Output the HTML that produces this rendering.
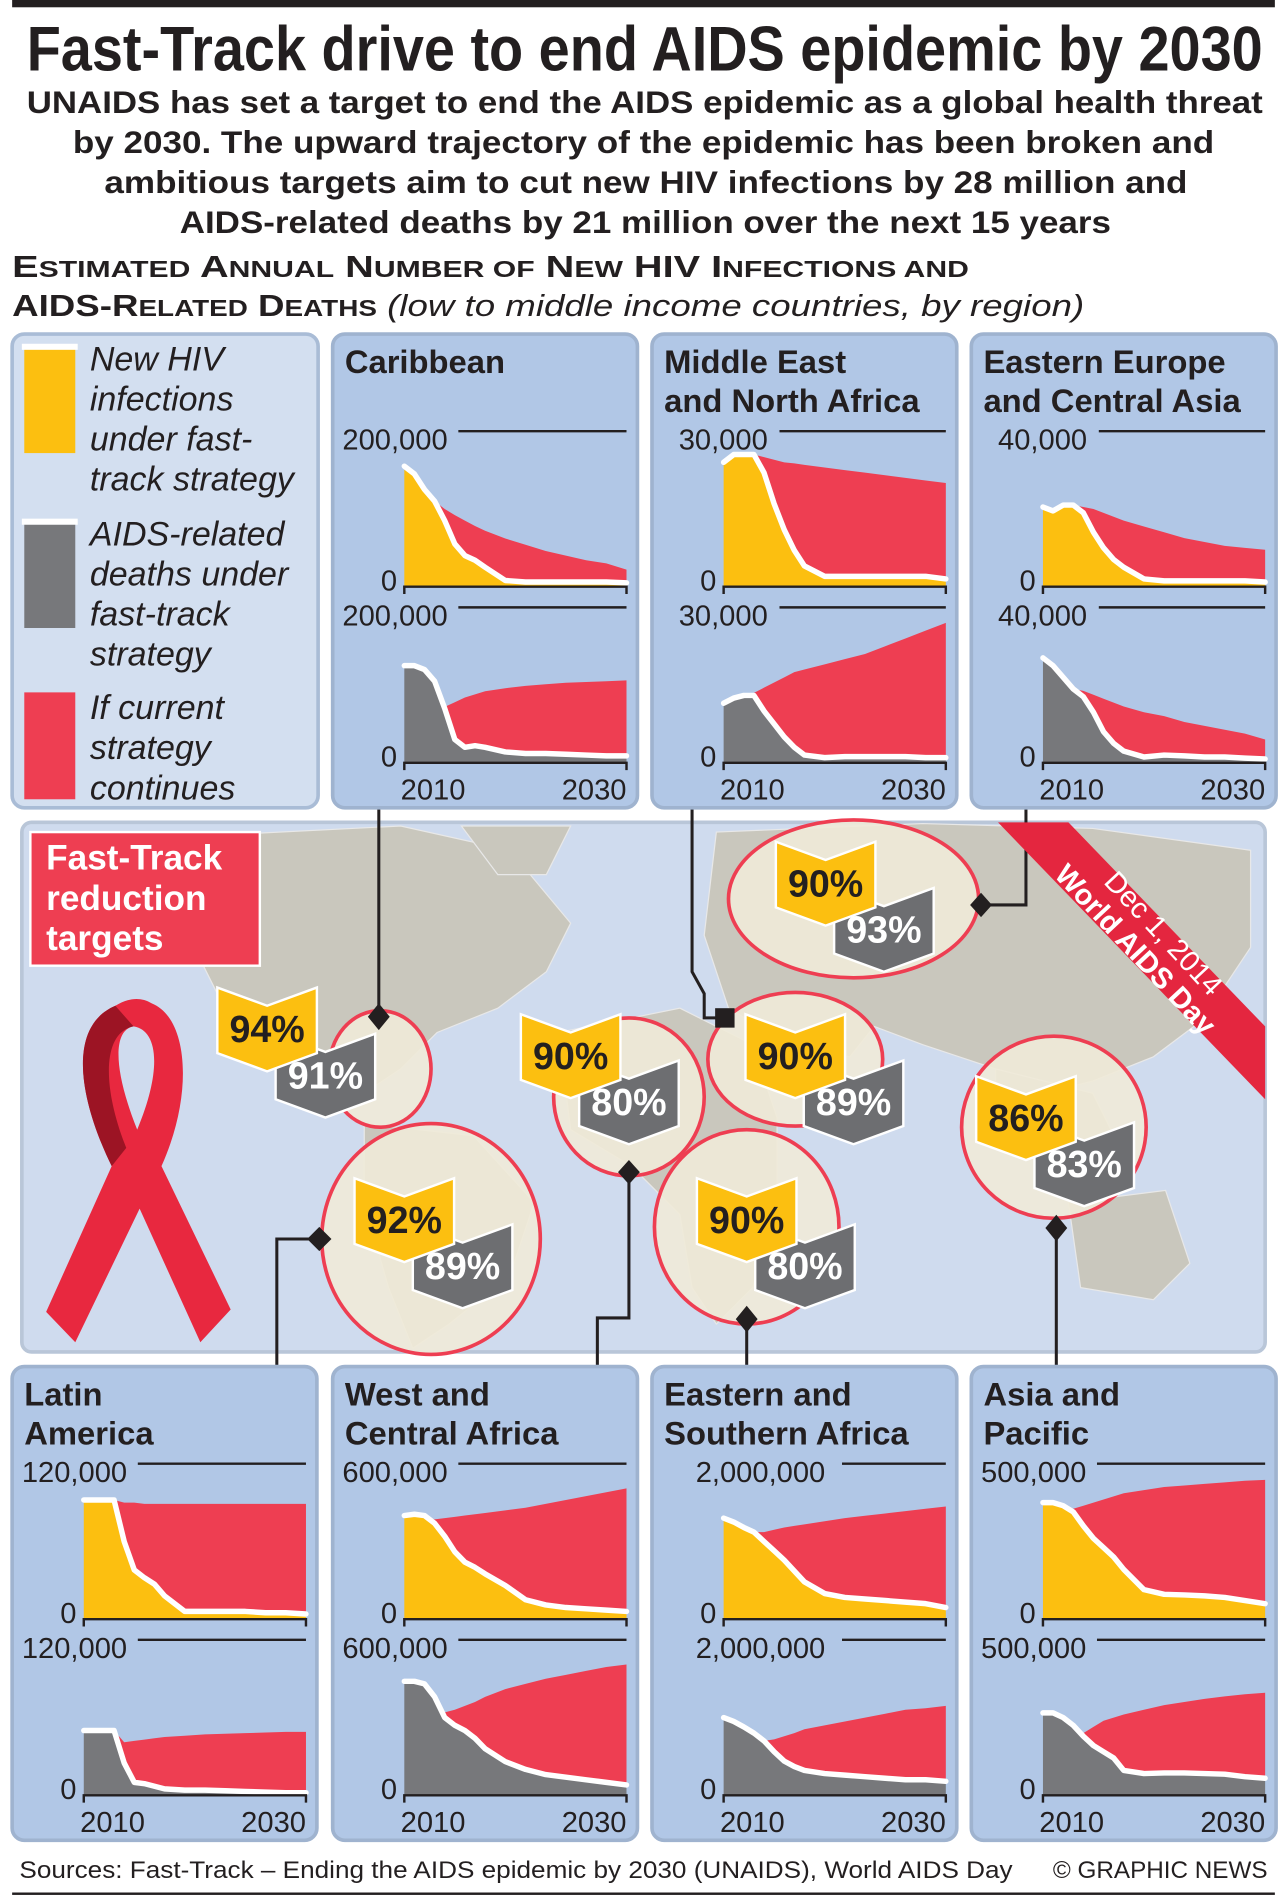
<!DOCTYPE html>
<html><head><meta charset="utf-8">
<style>
html,body{margin:0;padding:0;background:#fff;}
svg{display:block;font-family:"Liberation Sans",sans-serif;}
.nar{font-family:"Liberation Sans Narrow","Liberation Sans",sans-serif;}
</style></head>
<body>
<svg id="main" width="1287" height="1901" viewBox="0 0 1060 1565" preserveAspectRatio="none" xmlns="http://www.w3.org/2000/svg">
<rect x="10" y="0" width="1040" height="6" fill="#231f20"/>
<text class="nar" x="22" y="58" font-size="52" font-weight="bold" fill="#231f20" textLength="1018" lengthAdjust="spacingAndGlyphs">Fast-Track drive to end AIDS epidemic by 2030</text>
<g font-size="26" font-weight="bold" fill="#231f20">
<text x="22" y="93" textLength="1018" lengthAdjust="spacingAndGlyphs">UNAIDS has set a target to end the AIDS epidemic as a global health threat</text>
<text x="60" y="126" textLength="940" lengthAdjust="spacingAndGlyphs">by 2030. The upward trajectory of the epidemic has been broken and</text>
<text x="86" y="159" textLength="892" lengthAdjust="spacingAndGlyphs">ambitious targets aim to cut new HIV infections by 28 million and</text>
<text x="148" y="192" textLength="767" lengthAdjust="spacingAndGlyphs">AIDS-related deaths by 21 million over the next 15 years</text>
</g>
<g fill="#231f20">
<text x="10" y="228" font-size="25" font-weight="bold" textLength="788" lengthAdjust="spacingAndGlyphs">E<tspan font-size="19">STIMATED</tspan> A<tspan font-size="19">NNUAL</tspan> N<tspan font-size="19">UMBER OF</tspan> N<tspan font-size="19">EW</tspan> HIV I<tspan font-size="19">NFECTIONS AND</tspan></text>
<text x="10" y="260" font-size="25" textLength="883" lengthAdjust="spacingAndGlyphs"><tspan font-weight="bold">AIDS-R<tspan font-size="19">ELATED</tspan> D<tspan font-size="19">EATHS</tspan></tspan> <tspan font-style="italic">(low to middle income countries, by region)</tspan></text>
</g>

<g>
<rect x="10" y="275" width="252" height="390" rx="10" fill="#d3dff0" stroke="#a9bcd6" stroke-width="3"/>
<g>
<rect x="20" y="287" width="42" height="86" fill="#fcbf10"/><rect x="18" y="283" width="46" height="5" fill="#fff"/>
<text x="74" y="305" font-size="28" font-style="italic" fill="#231f20"><tspan x="74">New HIV</tspan><tspan x="74" dy="33">infections</tspan><tspan x="74" dy="33">under fast-</tspan><tspan x="74" dy="33">track strategy</tspan></text>
</g>
<g>
<rect x="20" y="431" width="42" height="86" fill="#77787b"/><rect x="18" y="427" width="46" height="5" fill="#fff"/>
<text x="74" y="449" font-size="28" font-style="italic" fill="#231f20"><tspan x="74">AIDS-related</tspan><tspan x="74" dy="33">deaths under</tspan><tspan x="74" dy="33">fast-track</tspan><tspan x="74" dy="33">strategy</tspan></text>
</g>
<g>
<rect x="20" y="570" width="42" height="88" fill="#ee3e52"/>
<text x="74" y="592" font-size="28" font-style="italic" fill="#231f20"><tspan x="74">If current</tspan><tspan x="74" dy="33">strategy</tspan><tspan x="74" dy="33">continues</tspan></text>
</g>
</g>

<g>
<rect x="18" y="677" width="1024" height="436" rx="8" fill="#cfdbee" stroke="#b9c6d8" stroke-width="3"/>
<g fill="#c9c7bd" stroke="#e8e8e8" stroke-width="1">
<path d="M130,690 L330,680 L420,700 L470,760 L450,800 L410,830 L360,850 L330,880 L300,900 L260,880 L220,850 L180,820 L160,780 Z"/>
<path d="M380,680 L470,680 L450,720 L410,720 Z"/>
<path d="M590,685 L760,678 L900,682 L1030,700 L1030,780 L990,840 L950,870 L900,890 L860,900 L820,880 L760,860 L720,845 L700,870 L650,860 L600,830 L580,770 Z"/>
<path d="M460,850 L560,830 L620,860 L640,920 L640,990 L620,1060 L590,1090 L570,1060 L560,1000 L520,960 L470,930 Z"/>
<path d="M300,925 L390,935 L440,990 L420,1050 L370,1090 L340,1110 L320,1060 L300,990 Z"/>
<path d="M880,990 L960,980 L980,1040 L950,1070 L890,1060 Z"/>
<path d="M820,880 L900,900 L920,940 L870,960 L820,930 Z"/>
</g>
</g>
<g fill="#f0ead8" fill-opacity="0.9" stroke="#ee3e52" stroke-width="3">
<ellipse cx="313" cy="880" rx="42" ry="48"/>
<ellipse cx="355" cy="1020" rx="90" ry="95"/>
<ellipse cx="518" cy="903" rx="62" ry="65"/>
<ellipse cx="655" cy="872" rx="72" ry="55"/>
<ellipse cx="615" cy="1010" rx="76" ry="80"/>
<ellipse cx="703" cy="740" rx="103" ry="65"/>
<ellipse cx="868" cy="928" rx="76" ry="75"/>
</g>
<g stroke="#231f20" stroke-width="2.5" fill="none">
<path d="M312,665 V838"/>
<path d="M570,665 V800 L580,818 V838 H597"/>
<path d="M845,665 V745 H808"/>
<path d="M228,1125 V1020 H263"/>
<path d="M492,1125 V1085 H518 V965"/>
<path d="M615,1125 V1085"/>
<path d="M870,1125 V1010"/>
</g>
<g fill="#231f20">
<path d="M312,826 l9,11 -9,11 -9,-11z"/><rect x="589" y="830" width="16" height="16"/>
<path d="M808,735 l9,10 -9,10 -9,-10z"/><path d="M263,1010 l10,10 -10,10 -10,-10z"/>
<path d="M518,955 l9,10 -9,10 -9,-10z"/><path d="M615,1075 l9,11 -9,11 -9,-11z"/>
<path d="M870,1000 l9,11 -9,11 -9,-11z"/>
</g>
<g id="badges"></g>

<g>
<rect x="25" y="685" width="189" height="110" fill="#ee3e52" stroke="#fff" stroke-width="2"/>
<text class="nar" x="38" y="716" font-size="29" font-weight="bold" fill="#fff"><tspan x="38">Fast-Track</tspan><tspan x="38" dy="33">reduction</tspan><tspan x="38" dy="33">targets</tspan></text>
</g>
<g>
<path d="M95,828 C55,845 65,905 92,960 L38,1080 L62,1105 L115,995 L165,1105 L190,1078 L133,960 C160,900 155,838 125,826 C115,820 105,822 95,828 Z M110,845 C130,848 134,880 113,930 C93,880 93,848 110,845 Z" fill="#e8283f" fill-rule="evenodd"/>
<path d="M95,828 C55,845 65,905 92,960 L104,945 C84,895 84,850 110,845 Z" fill="#9c1424"/>
</g>
<g>
<path d="M822,677 L880,677 L1042,845 L1042,905 Z" fill="#e4263f"/>
<text transform="translate(948,778) rotate(47)" font-size="24" fill="#fff" text-anchor="middle" x="0" y="-6">Dec 1, 2014</text>
<text transform="translate(948,778) rotate(47)" font-size="24" font-weight="bold" fill="#fff" text-anchor="middle" x="-6" y="20">World AIDS Day</text>
</g>

<g id="charts"></g>

<text x="16" y="1546" font-size="20" fill="#231f20" textLength="818" lengthAdjust="spacingAndGlyphs">Sources: Fast-Track – Ending the AIDS epidemic by 2030 (UNAIDS), World AIDS Day</text>
<text x="1044" y="1546" font-size="20" fill="#231f20" text-anchor="end">© GRAPHIC NEWS</text>
<rect x="10" y="1558" width="1040" height="2" fill="#231f20"/>
</svg>
<script>
const NS='http://www.w3.org/2000/svg';
const years=[2008,2009,2010,2011,2012,2013,2014,2015,2016,2018,2020,2022,2024,2026,2028,2030];
const regionNames=['Caribbean','Middle East|and North Africa','Eastern Europe|and Central Asia','Latin|America','West and|Central Africa','Eastern and|Southern Africa','Asia and|Pacific'];
const axisMaxLabels=['200,000','30,000','40,000','120,000','600,000','2,000,000','500,000'];
const axisMax=[200,30,40,120,600,2000,500];
const infFast=[
[155,145,125,110,85,55,40,34,25,8,6,6,6,6,6,5],
[24,25.5,25.5,25.5,22,16,11,7,4,2,2,2,2,2,2,1.5],
[20.5,19.5,21,21,19,14,10,7,5,2,1.5,1.5,1.5,1.5,1.5,1.2],
[92,92,92,92,60,38,32,27,18,6,6,6,6,5,5,4],
[400,405,400,370,320,260,220,200,175,130,75,55,45,40,35,30],
[1300,1250,1180,1120,1000,880,760,620,480,330,280,260,240,220,200,150],
[375,375,365,345,300,260,230,200,160,95,80,78,75,70,60,50]];
const infCur=[
[155,145,125,110,100,92,85,78,72,62,54,46,40,34,30,22],
[24,25.5,25.5,25.5,25,24.5,24,23.8,23.5,23,22.5,22,21.5,21,20.5,20],
[20.5,19.5,21,21,20.5,20,19,18,17,15.5,14,12.5,11.5,10.5,10,9.5],
[92,92,92,92,90,90,89,89,89,89,89,89,89,89,89,89],
[400,405,400,385,390,395,400,405,410,420,430,445,460,475,490,505],
[1300,1250,1180,1120,1120,1150,1180,1200,1220,1260,1300,1330,1360,1390,1420,1450],
[375,375,365,355,365,375,385,395,405,415,425,430,435,440,445,448]];
const deathFast=[
[125,125,120,105,70,30,20,22,20,14,12,12,11,10,9,9],
[11.5,12.5,13,13,10,7.5,5,3,1.5,1,1.2,1.2,1.2,1.2,1,1],
[27,25,22,19,17,13,8,5,3,1.5,2,1.8,1.5,1.5,1.2,1],
[50,50,50,50,25,10,9,7,5,4,4,3.5,3,2.5,2,2],
[440,440,430,380,300,270,250,220,180,130,100,80,70,60,50,40],
[1000,950,880,800,700,560,440,370,320,280,260,240,220,200,200,180],
[265,265,250,225,190,160,140,120,80,70,72,72,70,68,60,55]];
const deathCur=[
[125,125,120,105,72,78,84,88,92,96,99,101,103,104,105,106],
[11.5,12.5,13,13.5,14.5,15.5,16.5,17.5,18,19,20,21,22.5,24,25.5,27],
[27,25,22,19,18.5,17.5,16.5,15.5,14.5,13,12,10.5,9.5,8.5,7.5,6],
[50,50,50,50,41,42,43,44,45,46,47,47.5,48,48.5,49,49],
[440,440,430,380,320,330,345,360,380,410,430,450,465,480,495,505],
[1000,950,880,800,700,720,760,800,850,900,950,1000,1050,1100,1120,1150],
[265,265,250,225,200,220,240,250,260,275,290,300,310,318,325,330]];
const badgeTop=['94%','90%','90%','92%','90%','90%','86%'];
const badgeBottom=['91%','89%','93%','89%','80%','80%','83%'];
const badgeAnchor=[[220,855],[655,877],[680,735],[333,1012],[470,877],[615,1012],[845,928]];

const panelX=[274,537,800,10,274,537,800];
const panelY=[275,275,275,1125,1125,1125,1125];
const charts=document.getElementById('charts');
function mk(tag,attrs,parent){const e=document.createElementNS(NS,tag);for(const k in attrs)e.setAttribute(k,attrs[k]);parent.appendChild(e);return e;}
function slug(s){return s.replace('|',' ').toLowerCase().replace(/[^a-z]+/g,'-');}
function drawArea(g,xs,yFn,fast,cur,max,base,col,name){
  const xScale=v=>xs[0]+(v-years[0])/(years[years.length-1]-years[0])*(xs[1]-xs[0]);
  const y=v=>base-(v/max)*(base-yFn);
  let top=years.map((yr,i)=>xScale(yr)+','+y(cur[i])).join(' ');
  let bot=years.map((yr,i)=>xScale(yr)+','+y(fast[i])).reverse().join(' ');
  const red=mk('polygon',{points:top+' '+bot,fill:'#ee3e52'},g);
  
  
  let f=years.map((yr,i)=>xScale(yr)+','+y(fast[i])).join(' ');
  const fa=mk('polygon',{points:xScale(years[0])+','+base+' '+f+' '+xScale(years[years.length-1])+','+base,fill:col},g);
  
  
  const ln=mk('polyline',{points:f,fill:'none',stroke:'#fff','stroke-width':4.5,'stroke-linejoin':'round','stroke-linecap':'round'},g);
  
  
}
for(let r=0;r<7;r++){
  const px=panelX[r],py=panelY[r];
  const g=mk('g',{},charts);
  
  
  mk('rect',{x:px,y:py,width:251,height:390,rx:10,fill:'#b1c7e6',stroke:'#9fb3cf','stroke-width':3},g);
  const parts=regionNames[r].split('|');
  const t=mk('text',{x:px+10,y:py+32,'font-size':27,'font-weight':'bold',fill:'#231f20'},g);
  
  
  parts.forEach((p,i)=>{const ts=mk('tspan',{x:px+10,dy:i?32:0},t);ts.textContent=p;});
  const xs=[px+59,px+242];
  const subs=[[py+80,py+208,infFast[r],infCur[r],'#fcbf10','infections'],[py+225,py+353,deathFast[r],deathCur[r],'#77787b','deaths']];
  subs.forEach(s=>{
    const [yTop,base,fast,cur,col,nm]=s;
    const lab=mk('text',{y:yTop+15,'font-size':24,fill:'#231f20'},g);
    
    
    lab.textContent=axisMaxLabels[r];
    const lw=axisMaxLabels[r].length*12.5;
    lab.setAttribute('x',px+(r<3? (axisMaxLabels[r].length>6?8:22) : (axisMaxLabels[r].length>8?36:8)));
    const gx=parseFloat(lab.getAttribute('x'))+lw+8;
    const gl=mk('line',{x1:gx,x2:xs[1],y1:yTop,y2:yTop,stroke:'#231f20','stroke-width':2},g);
    
    
    drawArea(g,xs,yTop,fast,cur,axisMax[r],base,col,nm);
    const ax=mk('path',{d:`M${xs[0]},${base+6} V${base} H${xs[1]} V${base+6}`,stroke:'#231f20','stroke-width':2,fill:'none'},g);
    
    
    const z=mk('text',{x:xs[0]-6,y:base+3,'font-size':24,fill:'#231f20','text-anchor':'end'},g);
    
    
    z.textContent='0';
  });
  const y1=mk('text',{x:xs[0]-3,y:py+383,'font-size':24,fill:'#231f20'},g);
  
  
  y1.textContent='2010';
  const y2=mk('text',{x:xs[1],y:py+383,'font-size':24,fill:'#231f20','text-anchor':'end'},g);
  
  
  y2.textContent='2030';
}
const badges=document.getElementById('badges');
function chevron(cx,cy,col,txt,tcol,parent,name){
  const w=41,h=27,n=15;
  const g=mk('g',{},parent);
  
  
  mk('path',{d:`M${cx-w},${cy-h-n} L${cx},${cy-h} L${cx+w},${cy-h-n} V${cy+h-n} L${cx},${cy+h} L${cx-w},${cy+h-n} Z`,fill:col,stroke:'#fff','stroke-width':2},g);
  const t=mk('text',{x:cx,y:cy+3,'font-size':31,'font-weight':'bold',fill:tcol,'text-anchor':'middle',class:'nar'},g);
  t.textContent=txt;
}
for(let i=0;i<badgeTop.length;i++){
  const [x,y]=badgeAnchor[i];
  chevron(x+48,y+38,'#6d6e71',badgeBottom[i],'#fff',badges,'badge-deaths-reduction');
  chevron(x,y,'#fcbf10',badgeTop[i],'#231f20',badges,'badge-infections-reduction');
}
</script>
</body></html>
